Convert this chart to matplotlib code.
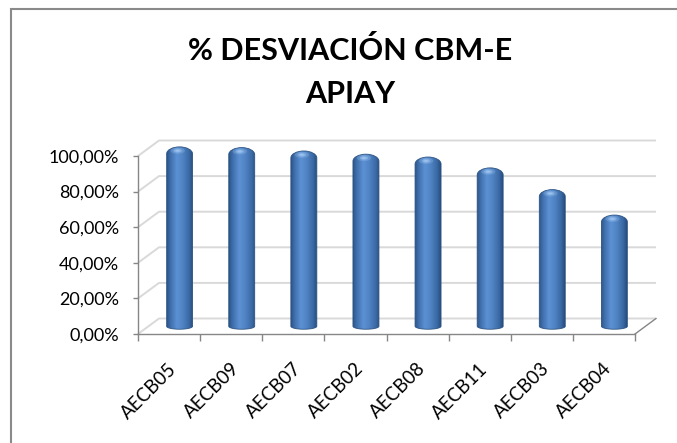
import numpy as np
import matplotlib
matplotlib.use("Agg")
import matplotlib.pyplot as plt
from matplotlib.path import Path
from matplotlib.patches import PathPatch, Rectangle, Ellipse
from matplotlib.colors import LinearSegmentedColormap
import matplotlib.transforms as mtransforms

# ---------------- data ----------------
categories = ["AECB05", "AECB09", "AECB07", "AECB02", "AECB08", "AECB11", "AECB03", "AECB04"]
values = [0.988, 0.984, 0.965, 0.947, 0.931, 0.870, 0.748, 0.605]
y_ticks = [0.0, 0.2, 0.4, 0.6, 0.8, 1.0]
y_tick_labels = ["0,00%", "20,00%", "40,00%", "60,00%", "80,00%", "100,00%"]
title_line1 = "% DESVIACIÓN CBM-E"
title_line2 = "APIAY"

plt.rcParams['font.family'] = ['Lato', 'DejaVu Sans']

W, H, DPI = 677, 443, 100
fig = plt.figure(figsize=(W / DPI, H / DPI), dpi=DPI)
fig.patch.set_facecolor('white')

# chart-area border (only left and top edges are visible)
fig.add_artist(Rectangle((10.5 / W, -0.1), 1.2, 1.1 - 8.5 / H, transform=fig.transFigure,
                         fill=False, edgecolor='#8a8a8a', lw=1.5))

# front plane of the 3D plot
ax_l, ax_r, ax_t, ax_b = 138.0, 635.0, 156.0, 334.0
ax = fig.add_axes([ax_l / W, 1 - ax_b / H, (ax_r - ax_l) / W, (ax_b - ax_t) / H])
n = len(categories)
ax.set_xlim(0, n)
ax.set_ylim(0, 1)
ax.patch.set_visible(False)

px_x = (ax_r - ax_l) / n      # pixels per category
px_y = (ax_b - ax_t) / 1.0    # pixels per unit
ddx = 21.0 / px_x             # depth offset (data units)
ddy = 15.5 / px_y

grid_c = '#d9d9d9'
axis_c = '#868686'

# back-wall gridlines and side-wall diagonals
for v in y_ticks:
    ax.plot([0, ddx, n + ddx], [v, v + ddy, v + ddy], color=grid_c, lw=1.4,
            clip_on=False, zorder=1, solid_capstyle='butt')
# floor right edge
ax.plot([n, n + ddx], [0, ddy], color=axis_c, lw=1.0, clip_on=False, zorder=2)

for s in ['top', 'right']:
    ax.spines[s].set_visible(False)
for s in ['left', 'bottom']:
    ax.spines[s].set_color(axis_c)
    ax.spines[s].set_linewidth(1.0)
    ax.spines[s].set_zorder(2)

ax.set_yticks(y_ticks)
ax.set_yticklabels(y_tick_labels)
ax.tick_params(axis='y', length=3.5, width=1.0, color=axis_c, pad=10, labelsize=13)
ax.set_xticks(np.arange(n + 1))
ax.set_xticklabels([])
ax.tick_params(axis='x', length=5, width=1.0, color=axis_c)

# category labels
lab_tr = mtransforms.offset_copy(ax.transData, fig=fig, x=5, y=-32, units='dots')
for i, c in enumerate(categories):
    ax.text(i + 0.5, 0, c, transform=lab_tr, rotation=45, rotation_mode='anchor',
            ha='right', va='center', fontsize=13.5, color='black')

# cylinders
cmap = LinearSegmentedColormap.from_list('cyl', [
    (0.00, '#2b5488'), (0.12, '#3d6ca8'), (0.38, '#5c91d4'),
    (0.60, '#5184c4'), (0.85, '#3b6aa5'), (1.00, '#274c7c')])
grad = np.linspace(0, 1, 256)[None, :]
hw = 13.0 / px_x
ry_t = 7.0 / px_y       # height of the rounded cap
cap_up = 3.5 / px_y     # cap apex sits above the value level (ellipse centre)
ry_b = 3.0 / px_y
k = 0.5523
for i, v in enumerate(values):
    cx = i + 0.5 + ddx / 2
    base = ddy / 2
    top = v + ddy / 2 + cap_up
    verts = [
        (cx - hw, base),
        (cx - hw, top - ry_t),
        (cx - hw, top - ry_t + k * ry_t), (cx - k * hw, top), (cx, top),
        (cx + k * hw, top), (cx + hw, top - ry_t + k * ry_t), (cx + hw, top - ry_t),
        (cx + hw, base),
        (cx + hw, base - k * ry_b), (cx + k * hw, base - ry_b), (cx, base - ry_b),
        (cx - k * hw, base - ry_b), (cx - hw, base - k * ry_b), (cx - hw, base),
        (cx - hw, base),
    ]
    codes = [Path.MOVETO, Path.LINETO,
             Path.CURVE4, Path.CURVE4, Path.CURVE4,
             Path.CURVE4, Path.CURVE4, Path.CURVE4,
             Path.LINETO,
             Path.CURVE4, Path.CURVE4, Path.CURVE4,
             Path.CURVE4, Path.CURVE4, Path.CURVE4,
             Path.CLOSEPOLY]
    path = Path(verts, codes)
    patch = PathPatch(path, facecolor='none', edgecolor='#2c5383', lw=0.6,
                      clip_on=False, zorder=4)
    ax.add_patch(patch)
    im = ax.imshow(grad, cmap=cmap, extent=[cx - hw, cx + hw, base - ry_b, top],
                   aspect='auto', interpolation='bilinear', zorder=3, origin='lower')
    im.set_clip_path(patch)
    im.set_clip_box(fig.bbox)
    # highlight on the top
    for w_, a_ in [(0.55, 0.25), (0.32, 0.45), (0.16, 0.6)]:
        e = Ellipse((cx - 0.15 * hw, top - 0.55 * ry_t), 2 * hw * w_, ry_t * w_ * 1.6,
                    facecolor='#a8cdf5', edgecolor='none', alpha=a_, zorder=5, clip_on=False)
        ax.add_patch(e)

ax.set_xlim(0, n)
ax.set_ylim(0, 1)

# title
fig.text(350 / W, 1 - 50 / H, title_line1, ha='center', va='center',
         fontsize=22, fontweight='bold', color='black')
fig.text(350 / W, 1 - 94 / H, title_line2, ha='center', va='center',
         fontsize=22, fontweight='bold', color='black')

fig.savefig('out.png', dpi=DPI)
